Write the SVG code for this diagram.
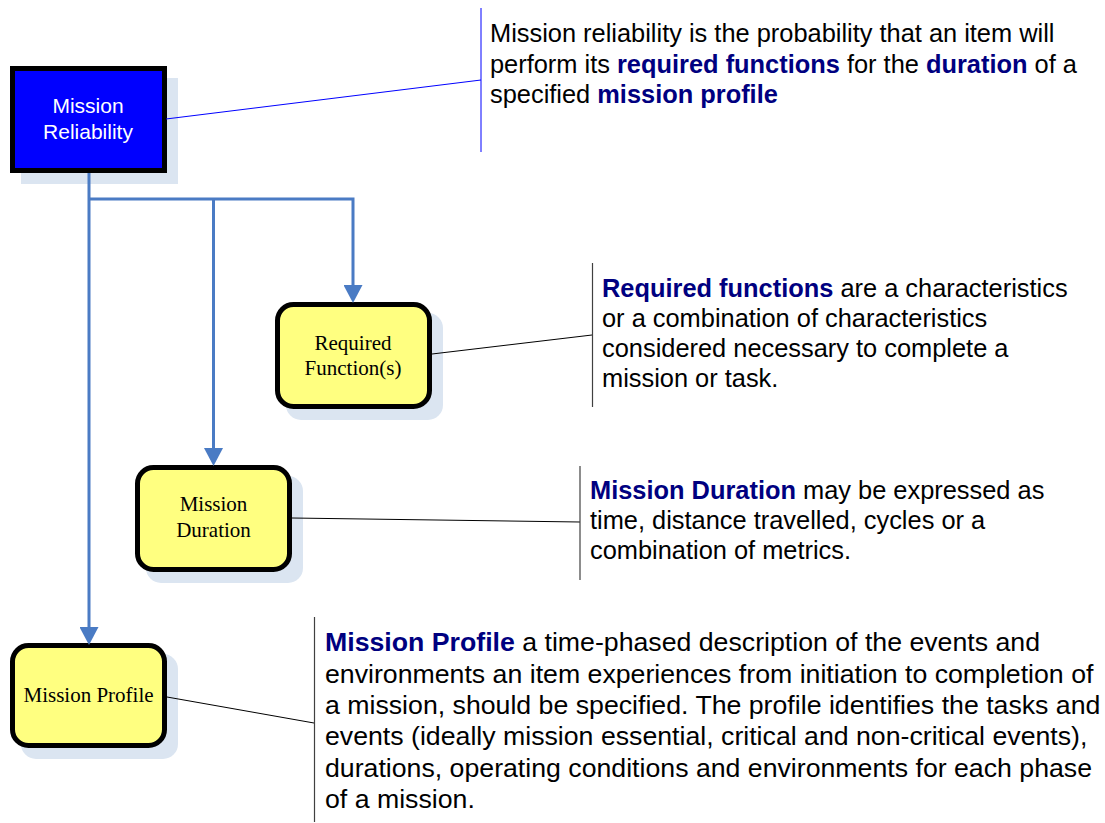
<svg xmlns="http://www.w3.org/2000/svg" width="1105" height="823" viewBox="0 0 1105 823">
<defs>
<style>
.shadow{fill:#dbe5f1;stroke:none}
.box{stroke:#000;stroke-width:5}
.ybox{fill:#ffff80}
.bbox{fill:#0000ff}
.conn{fill:none;stroke:#4a7bc4;stroke-width:3}
.lead{fill:none;stroke:#000;stroke-width:1}
.leadb{fill:none;stroke:#0000ff;stroke-width:1}
.vbar{fill:none;stroke:#404040;stroke-width:1.2}
.desc{font-family:"Liberation Sans",Arial,sans-serif;font-size:25.4px;fill:#000}
.big{font-size:26.7px}
.em{font-weight:bold;fill:#000080}
.serif{font-family:"Liberation Serif","Times New Roman",serif;font-size:21px;fill:#000;text-anchor:middle}
.sans{font-family:"Liberation Sans",Arial,sans-serif;font-size:21px;fill:#fff;text-anchor:middle}
</style>
<marker id="arr" markerUnits="userSpaceOnUse" markerWidth="18" markerHeight="19" viewBox="0 0 18 19" refX="8" refY="9.5" orient="auto">
<path d="M0,0 L18,9.5 L0,19 z" fill="#4a7bc4"/>
</marker>
</defs>
<rect width="1105" height="823" fill="#fff"/>

<g id="mission-reliability">
<rect class="shadow" x="21" y="78" width="157" height="106"/>
<rect class="box bbox" x="12.5" y="68.5" width="152" height="102"/>
<text class="sans" x="88" y="113">Mission</text>
<text class="sans" x="88" y="138.5">Reliability</text>
</g>

<g id="required-functions">
<rect class="shadow" x="286" y="313" width="157" height="107" rx="15"/>
<rect class="box ybox" x="277.5" y="304.5" width="152" height="102" rx="16"/>
<text class="serif" x="353" y="349.5">Required</text>
<text class="serif" x="353" y="375">Function(s)</text>
</g>

<g id="mission-duration">
<rect class="shadow" x="146" y="476" width="157" height="107" rx="15"/>
<rect class="box ybox" x="137.5" y="467.5" width="152" height="102" rx="16"/>
<text class="serif" x="213.5" y="511">Mission</text>
<text class="serif" x="213.5" y="537">Duration</text>
</g>

<g id="mission-profile">
<rect class="shadow" x="21" y="654" width="157" height="105" rx="15"/>
<rect class="box ybox" x="12.5" y="645.5" width="152" height="100" rx="16"/>
<text class="serif" x="88.5" y="702">Mission Profile</text>
</g>

<g id="connectors">
<path class="conn" d="M89,173 V635" marker-end="url(#arr)"/>
<path class="conn" d="M89,199 H353 V293" marker-end="url(#arr)"/>
<path class="conn" d="M213.5,199 V456" marker-end="url(#arr)"/>
<path class="leadb" d="M166,119 L481,80"/>
<path class="lead" d="M432,354 L592,335"/>
<path class="lead" d="M292,518 L580,522"/>
<path class="lead" d="M167,697 L314,723"/>
</g>

<g id="note-reliability">
<path class="leadb" d="M481,8 V152"/>
<text class="desc" x="490" y="42">Mission reliability is the probability that an item will</text>
<text class="desc" x="490" y="73">perform its <tspan class="em">required functions</tspan> for the <tspan class="em">duration</tspan> of a</text>
<text class="desc" x="490" y="103">specified <tspan class="em">mission profile</tspan></text>
</g>

<g id="note-functions">
<path class="vbar" d="M592.5,263 V407"/>
<text class="desc" x="602" y="297"><tspan class="em">Required functions</tspan> are a characteristics</text>
<text class="desc" x="602" y="327">or a combination of characteristics</text>
<text class="desc" x="602" y="357">considered necessary to complete a</text>
<text class="desc" x="602" y="387">mission or task.</text>
</g>

<g id="note-duration">
<path class="vbar" d="M580,466 V580"/>
<text class="desc" x="590" y="499"><tspan class="em">Mission Duration</tspan> may be expressed as</text>
<text class="desc" x="590" y="529">time, distance travelled, cycles or a</text>
<text class="desc" x="590" y="559">combination of metrics.</text>
</g>

<g id="note-profile">
<path class="vbar" d="M314.5,617 V822"/>
<text class="desc big" x="325" y="651"><tspan class="em">Mission Profile</tspan> a time-phased description of the events and</text>
<text class="desc big" x="325" y="682.5">environments an item experiences from initiation to completion of</text>
<text class="desc big" x="325" y="714">a mission, should be specified. The profile identifies the tasks and</text>
<text class="desc big" x="325" y="745">events (ideally mission essential, critical and non-critical events),</text>
<text class="desc big" x="325" y="776.5">durations, operating conditions and environments for each phase</text>
<text class="desc big" x="325" y="808">of a mission.</text>
</g>
</svg>
